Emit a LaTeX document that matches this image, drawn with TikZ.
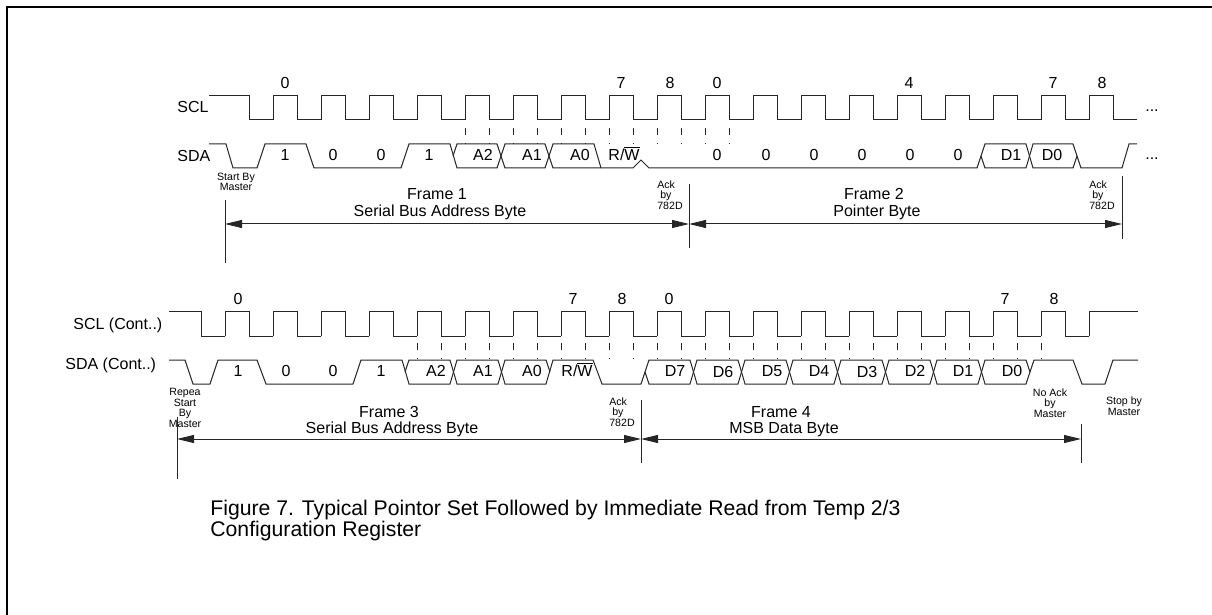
\documentclass[tikz,border=0pt]{standalone}
\usepackage{fontspec}
\setmainfont{Liberation Sans}
\usepackage{tikz}
\usetikzlibrary{arrows.meta}
\definecolor{waveink}{gray}{0.15}

\tikzset{
    wave/.style={line width=0.5pt, color=waveink, line join=miter},
    frameline/.style={line width=0.5pt, color=waveink, {Triangle[length=8.5pt,width=4pt]}-{Triangle[length=8.5pt,width=4pt]}},
    probe/.style={line width=0.5pt, color=waveink, dash pattern=on 3.5pt off 4pt on 0.5pt off 20pt},
    lbl/.style={font=\fontsize{8}{8.2}\selectfont, inner sep=0pt, anchor=base},
    tiny/.style={font=\fontsize{5.3}{5.3}\selectfont, inner sep=0pt, align=center},
}
\newcommand{\notW}{$\overline{\hbox{W}}$}

\begin{document}
\begin{tikzpicture}[x=0.5pt, y=-0.5pt]
    \useasboundingbox (0,0) rectangle (1212,615);

    % Sheet edge
    \draw[line width=1pt] (1212,7) -- (7,7) -- (7,615);

    % First SCL
    \draw[wave] (209,96) -- (249,96) -- (249,120) -- (273,120);
    \foreach \x in {273,321,...,1089}
        \draw[wave] (\x,120) -- (\x,96) -- ++(24,0) -- ++(0,24) -- ++(24,0);
    \foreach \x in {465,489,...,729}
        \draw[probe] (\x,128) -- (\x,144);

    % First SDA
    \draw[wave] (209,144) -- (226,144) -- (233,168) -- (257,168) -- (265,144) -- (306,144) -- (314,168)
        -- (401,168) -- (409,144) -- (450,144) -- (457,168) -- (497,168) -- (505,144) -- (545,144)
        -- (553,168) -- (633,168) -- (641,160) -- (649,168) -- (977,168) -- (985,144) -- (1026,144)
        -- (1033,168) -- (1073,168) -- (1077,156);
    \draw[wave] (453,156) -- (457,144) -- (497,144) -- (505,168) -- (545,168) -- (553,144) -- (594,144) -- (601,168);
    \draw[wave] (981,156) -- (985,168) -- (1026,168) -- (1033,144) -- (1073,144) -- (1081,168)
        -- (1122,168) -- (1129,144) -- (1137,144);

    % Second SCL
    \draw[wave] (169,312) -- (201,312) -- (201,336) -- (225,336);
    \foreach \x in {225,273,...,1041}
        \draw[wave] (\x,336) -- (\x,312) -- ++(24,0) -- ++(0,24) -- ++(24,0);
    \draw[wave] (1089,336) -- (1089,312) -- (1138,312);
    \foreach \x in {417,441,...,1041}
        \draw[probe] (\x,343) -- (\x,360);

    % Second SDA
    \draw[wave] (169,360) -- (185,360) -- (193,384) -- (210,384) -- (218,360) -- (257,360) -- (266,384)
        -- (353,384) -- (361,360) -- (402,360) -- (409,384) -- (450,384) -- (457,360) -- (498,360)
        -- (505,384) -- (546,384) -- (553,360) -- (593,360) -- (602,384) -- (641,384) -- (649,360)
        -- (690,360) -- (697,384) -- (738,384) -- (745,360) -- (786,360) -- (793,384) -- (834,384)
        -- (841,360) -- (882,360) -- (889,384) -- (930,384) -- (937,360) -- (978,360) -- (985,384)
        -- (1026,384) -- (1034,360) -- (1073,360) -- (1082,384) -- (1105,384) -- (1113,360) -- (1138,360);
    \draw[wave] (405,372) -- (409,360) -- (450,360) -- (457,384) -- (498,384) -- (505,360) -- (546,360) -- (550,372);
    \draw[wave] (645,372) -- (649,384) -- (690,384) -- (697,360) -- (738,360) -- (745,384) -- (786,384)
        -- (793,360) -- (834,360) -- (841,384) -- (882,384) -- (889,360) -- (930,360) -- (937,384)
        -- (978,384) -- (985,360) -- (1026,360) -- (1030,372);

    % Signal names
    \node[lbl, anchor=base west] (scltop) at (177,113) {SCL};
    \node[lbl, anchor=base west] (sdatop) at (177,162) {SDA};
    \node[lbl, anchor=base west] (sclcont) at (73,329) {SCL (Cont..)};
    \node[lbl, anchor=base west] (sdacont) at (65,369) {SDA (Cont..)};
    \node[lbl] (moreclk) at (1152,112) {...};
    \node[lbl] (moredat) at (1152,160) {...};

    % Clock counts
    \foreach \x/\t [count=\i] in {285/0,621/7,670/8,717/0,909/4,1053/7,1102/8}
        \node[lbl] (counta\i) at (\x,89) {\t};
    \foreach \x/\t [count=\i] in {238/0,573/7,622/8,669/0,1005/7,1054/8}
        \node[lbl] (countb\i) at (\x,305) {\t};

    % Bits on the lines
    \foreach \x/\t [count=\i] in {285/1,333/0,381/0,429/1,483/A2,532/A1,580/A0,624/R\slash\notW,717/0,
            766/0,814/0,862/0,910/0,958/0,1011/D1,1052/D0}
        \node[lbl] (bita\i) at (\x,161) {\t};
    \foreach \x/\t [count=\i] in {238/1,286/0,333/0,381/1,436/A2,483/A1,532/A0,577/R\slash\notW,675/D7,
            772/D5,819/D4,915/D2,963/D1,1012/D0}
        \node[lbl] (bitb\i) at (\x,377) {\t};
    \node[lbl] (bitd6) at (723,378) {D6};
    \node[lbl] (bitd3) at (867,378) {D3};

    % Small notes
    \node[tiny] (startnote) at (236,182) {Start By\\Master};
    \node[tiny, align=left] (acka) at (670,195) {Ack\\\hspace{1.5pt}by\\782D};
    \node[tiny, align=left] (ackb) at (1102,195) {Ack\\\hspace{1.5pt}by\\782D};
    \node[tiny] (repeatnote) at (185,408) {Repea\\Start\\By\\Master};
    \node[tiny, align=left] (ackc) at (622,412) {Ack\\\hspace{1.5pt}by\\782D};
    \node[tiny] (noack) at (1050,403) {No Ack\\by\\Master};
    \node[tiny] (stopnote) at (1124,406) {Stop by\\Master};

    % Frame limits
    \coordinate (framea) at (225,224);
    \coordinate (frameb) at (689,224);
    \coordinate (framec) at (1122,224);
    \coordinate (framed) at (177,439);
    \coordinate (framee) at (641,439);
    \coordinate (framef) at (1081,439);
    \draw[wave] (framea) ++(0,-24) -- ++(0,63);
    \draw[wave] (frameb) ++(0,-40) -- ++(0,64);
    \draw[wave] (framec) ++(0,-48) -- ++(0,63);
    \draw[wave] (framed) ++(0,-22) -- ++(0,62);
    \draw[wave] (framee) ++(0,-39) -- ++(0,63);
    \draw[wave] (framef) ++(0,-15) -- ++(0,39);
    \draw[frameline] (framea) -- (frameb);
    \draw[frameline] (frameb) -- (framec);
    \draw[frameline] (framed) -- (framee);
    \draw[frameline] (framee) -- (framef);

    % Frame names
    \node[lbl] (frameone) at (437,200) {Frame 1};
    \node[lbl] (frameonesub) at (440,217) {Serial Bus Address Byte};
    \node[lbl] (frametwo) at (874,200) {Frame 2};
    \node[lbl] (frametwosub) at (877,217) {Pointer Byte};
    \node[lbl] (framethree) at (389,417) {Frame 3};
    \node[lbl] (framethreesub) at (392,433) {Serial Bus Address Byte};
    \node[lbl] (framefour) at (781,417) {Frame 4};
    \node[lbl] (framefoursub) at (784,433) {MSB Data Byte};

    % Caption
    \node[inner sep=0pt, align=left, anchor=north west, font=\fontsize{10.6}{10.5}\selectfont] (caption) at (210,500)
        {Figure 7. Typical Pointor Set Followed by Immediate Read from Temp 2/3\\Configuration Register};
\end{tikzpicture}
\end{document}
